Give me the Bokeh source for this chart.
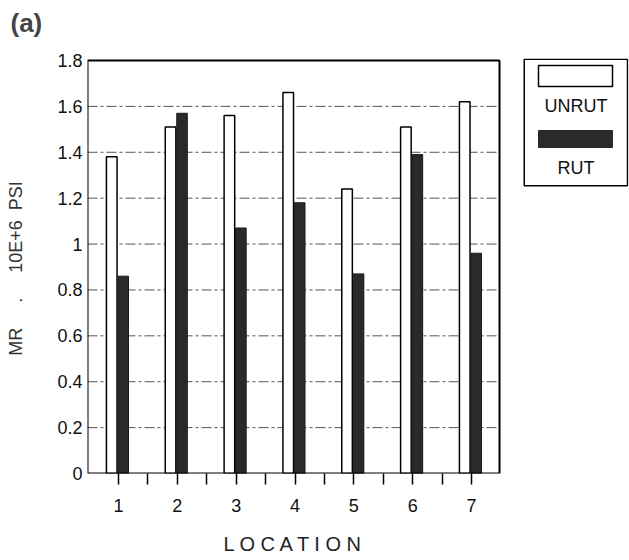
from bokeh.plotting import figure
from bokeh.models import Range1d, FixedTicker, ColumnDataSource, Title, LinearAxis
from bokeh.transform import dodge
from bokeh.embed import file_html
from bokeh.resources import INLINE
from bokeh.core.properties import value

# ---- data ----
locations = [1, 2, 3, 4, 5, 6, 7]
location_labels = ["1", "2", "3", "4", "5", "6", "7"]
unrut = [1.38, 1.51, 1.56, 1.66, 1.24, 1.51, 1.62]
rut = [0.86, 1.57, 1.07, 1.18, 0.87, 1.39, 0.96]
y_ticks = [0, 0.2, 0.4, 0.6, 0.8, 1.0, 1.2, 1.4, 1.6, 1.8]
y_tick_labels = ["0", "0.2", "0.4", "0.6", "0.8", "1", "1.2", "1.4", "1.6", "1.8"]
series_names = ["UNRUT", "RUT"]
x_title = "L O C A T I O N"
y_title = "MR \u00a0\u00a0\u00a0\u00a0. \u00a0\u00a0\u00a0\u00a010E+6 \u00a0PSI\u00a0"
panel_tag = "(a)"

# ---- layout constants (pixels) ----
W, H = 629, 560
FRAME_L, FRAME_R = 87, 628        # drawing frame (plot box + legend area)
FRAME_T, FRAME_B = 58, 473
PLOT_R, PLOT_T = 499, 60          # right / top edge of the plot box
LEG_L, LEG_R, LEG_T, LEG_B = 523, 628, 58, 186
X0, X1 = 0.473, 7.476             # x values at plot box left / right edge
Y0, Y1 = 0.0, 1.8                 # y values at plot box bottom / top

xs = (X1 - X0) / (PLOT_R - FRAME_L)
ys = (Y1 - Y0) / (FRAME_B - PLOT_T)
x_end = X0 + (FRAME_R - FRAME_L) * xs
y_end = Y0 + (FRAME_B - FRAME_T) * ys

FONT = "'Liberation Sans', Arial, sans-serif"
DARK = "#2a2a2a"

src = ColumnDataSource(dict(x=locations, unrut=unrut, rut=rut))

p = figure(width=W, height=H,
           x_range=Range1d(X0, x_end), y_range=Range1d(Y0, y_end),
           output_backend="svg", toolbar_location=None,
           min_border_left=FRAME_L, min_border_right=W - FRAME_R,
           min_border_top=FRAME_T, min_border_bottom=H - FRAME_B,
           title=panel_tag)
p.outline_line_color = None
p.xgrid.visible = False
p.ygrid.visible = False

xa = p.xaxis[0]   # main x axis (below)
ya = p.yaxis[0]   # main y axis (left)

# dashed horizontal grid lines inside the plot box
grid_vals = y_ticks[1:-1]
p.segment(x0=[X0] * len(grid_vals), x1=[X1] * len(grid_vals),
          y0=grid_vals, y1=grid_vals,
          line_color="#555555", line_dash="10 3 3 3", line_width=1)

# bars
p.vbar(x=dodge("x", -0.115, range=p.x_range), top="unrut", bottom=0, width=0.18,
       source=src, fill_color="white", line_color="black", line_width=1.5)
p.vbar(x=dodge("x", 0.08, range=p.x_range), top="rut", bottom=0, width=0.18,
       source=src, fill_color=DARK, line_color="#1a1a1a", line_width=1)

# plot box outline
p.quad(left=[X0], right=[X1], bottom=[Y0], top=[Y1],
       fill_color=None, line_color="black", line_width=2)


def spacer_axis(size):
    """An axis with one invisible tick: used only to reserve space in a side panel."""
    return LinearAxis(ticker=FixedTicker(ticks=[locations[0]], minor_ticks=[]),
                      major_label_overrides={locations[0]: ""},
                      major_tick_out=size, major_tick_in=0,
                      minor_tick_out=0, minor_tick_in=0,
                      major_label_standoff=0, axis_line_color=None,
                      major_tick_line_color=None, minor_tick_line_color=None,
                      major_label_text_font_size="1px")


# x axis
xa.ticker = FixedTicker(ticks=locations,
                        minor_ticks=[l + 0.5 for l in locations[:-1]])
xa.major_label_overrides = {l: s for l, s in zip(locations, location_labels)}
xa.major_tick_in = 0
xa.major_tick_out = 11
xa.minor_tick_in = 0
xa.minor_tick_out = 11
xa.major_tick_line_width = 1.5
xa.minor_tick_line_width = 1.5
xa.major_tick_line_color = "black"
xa.minor_tick_line_color = "black"
xa.axis_line_color = None
xa.major_label_text_font = FONT
xa.major_label_text_font_size = "18px"
xa.major_label_text_color = "#111111"
xa.major_label_standoff = 14

# y axis
ya.ticker = FixedTicker(ticks=y_ticks, minor_ticks=[])
ya.major_label_overrides = {t: s for t, s in zip(y_ticks, y_tick_labels)}
ya.major_tick_in = 0
ya.major_tick_out = 0
ya.minor_tick_in = 0
ya.minor_tick_out = 0
ya.axis_line_color = None
ya.major_label_text_font = FONT
ya.major_label_text_font_size = "18px"
ya.major_label_text_color = "#111111"
ya.major_label_standoff = 5
ya.axis_label = y_title
ya.axis_label_text_font = FONT
ya.axis_label_text_font_size = "18px"
ya.axis_label_text_font_style = "normal"
ya.axis_label_text_color = "#333333"
ya.axis_label_standoff = 28

# spacer above the frame so that "(a)" sits near the top edge
p.add_layout(spacer_axis(12), "above")

# title "(a)"
p.title.text_font = FONT
p.title.text_font_size = "26px"
p.title.text_font_style = "bold"
p.title.align = "left"
p.title.vertical_align = "top"
p.title.offset = -77
p.title.standoff = 14

# spacer + x axis title, placed under the plot box (not the whole frame)
p.add_layout(spacer_axis(13), "below")
xt = Title(text=x_title, align="left", vertical_align="bottom",
           offset=136, standoff=6,
           text_font=FONT, text_font_size="20px", text_font_style="normal",
           text_color="#222222")
p.add_layout(xt, "below")

# ---- legend (pixel coordinates relative to the legend box) ----
p.extra_x_ranges = {"leg": Range1d(FRAME_L - LEG_L, FRAME_R - LEG_L)}
p.extra_y_ranges = {"leg": Range1d(LEG_B - FRAME_B, LEG_B - FRAME_T)}
p.quad(left=[0.75], right=[LEG_R - LEG_L - 1], bottom=[0.75], top=[LEG_B - LEG_T - 0.75],
       fill_color=None, line_color="black", line_width=1.5,
       x_range_name="leg", y_range_name="leg")
p.quad(left=[15], right=[89], bottom=[100], top=[121],
       fill_color="white", line_color="black", line_width=1.5,
       x_range_name="leg", y_range_name="leg")
p.quad(left=[15], right=[89], bottom=[39], top=[56],
       fill_color=DARK, line_color=DARK, line_width=1,
       x_range_name="leg", y_range_name="leg")
p.text(x=[52.5, 52.5], y=[80.5, 18.5], text=series_names,
       text_align="center", text_baseline="middle",
       text_font=value(FONT), text_font_size="18px", text_color="#111111",
       x_range_name="leg", y_range_name="leg")

open("out.html", "w").write(file_html(p, INLINE))
